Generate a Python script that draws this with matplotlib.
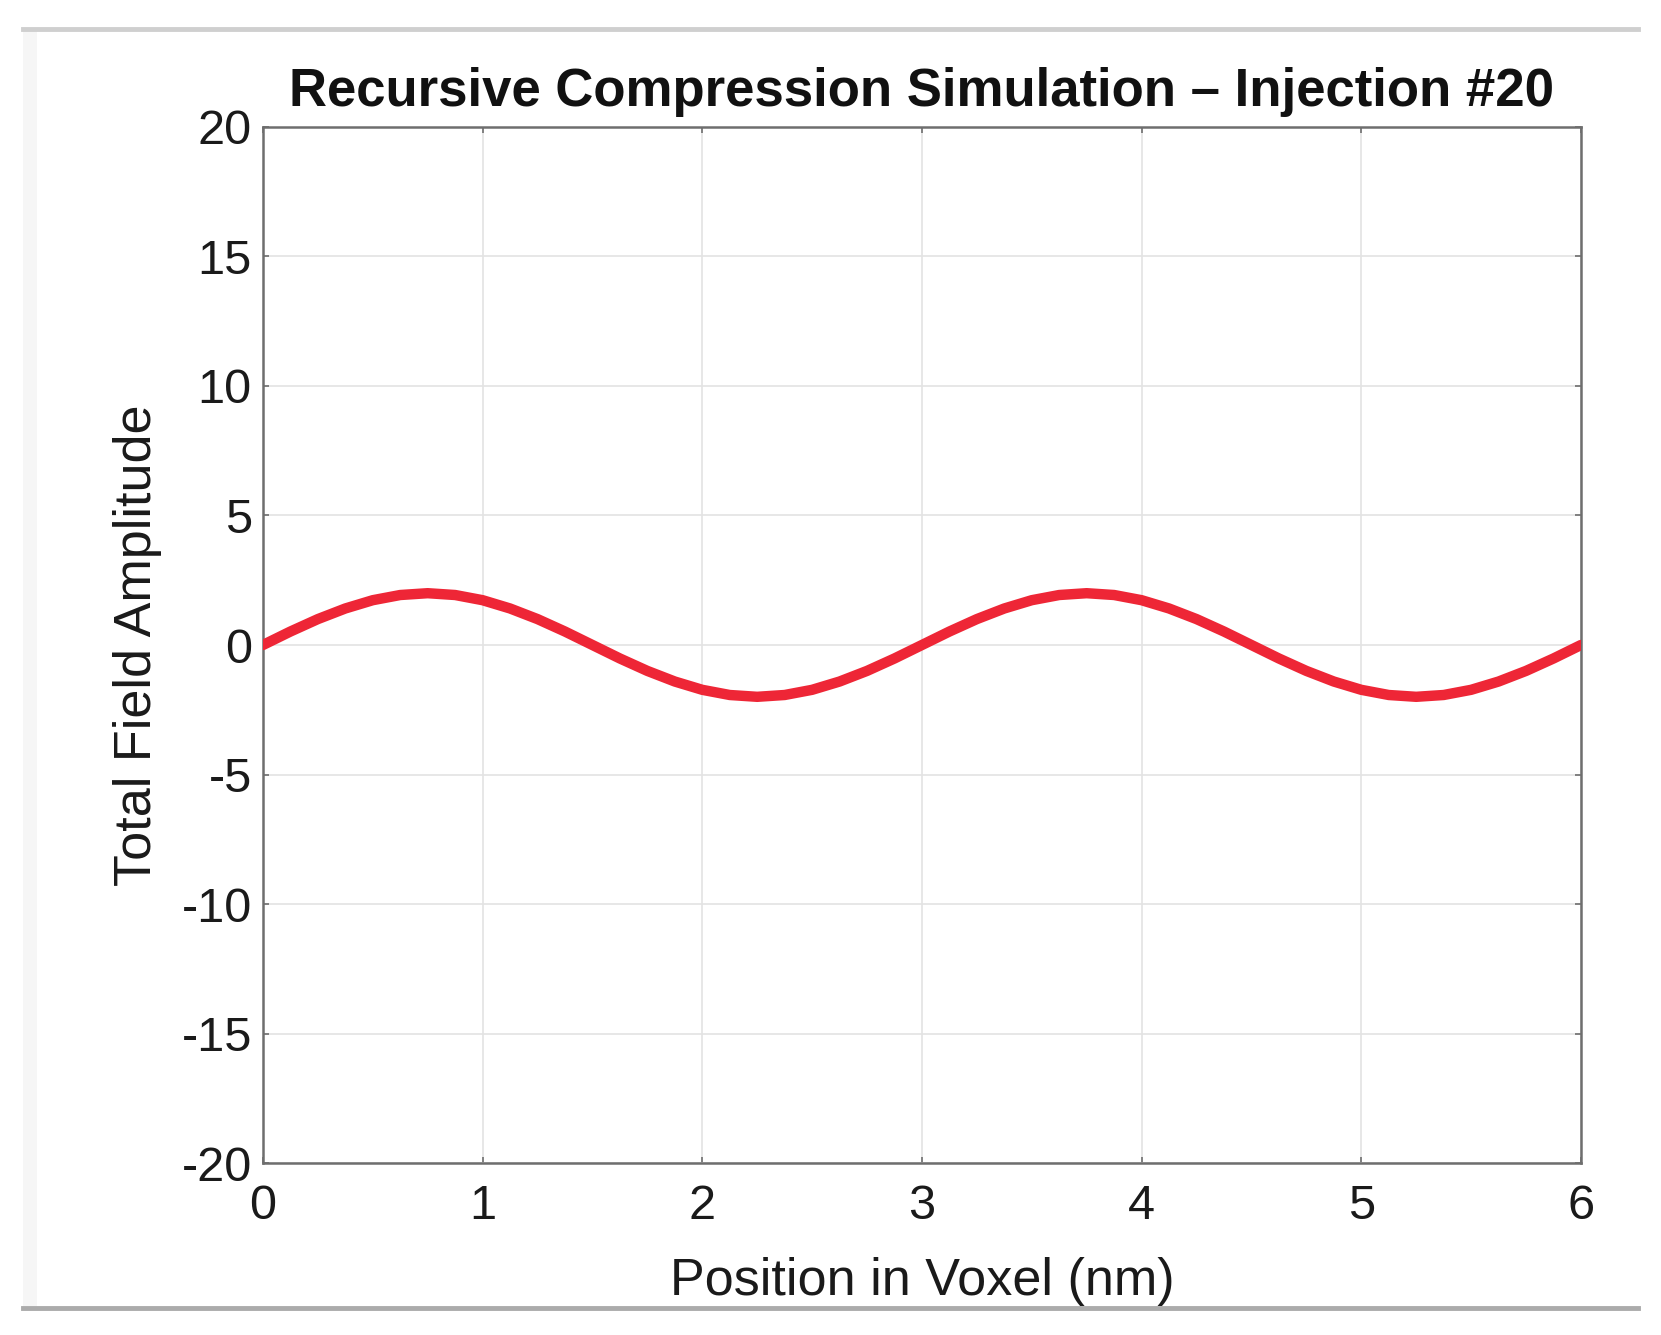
import matplotlib
matplotlib.use("Agg")
import matplotlib.pyplot as plt
from matplotlib.lines import Line2D
from matplotlib.patches import Rectangle

plt.rcParams["font.family"] = ["Liberation Sans", "DejaVu Sans"]
plt.rcParams["axes.unicode_minus"] = False

position = [
    0.0, 0.125, 0.25, 0.375, 0.5, 0.625, 0.75, 0.875, 1.0, 1.125, 1.25, 1.375,
    1.5, 1.625, 1.75, 1.875, 2.0, 2.125, 2.25, 2.375, 2.5, 2.625, 2.75, 2.875,
    3.0, 3.125, 3.25, 3.375, 3.5, 3.625, 3.75, 3.875, 4.0, 4.125, 4.25, 4.375,
    4.5, 4.625, 4.75, 4.875, 5.0, 5.125, 5.25, 5.375, 5.5, 5.625, 5.75, 5.875,
    6.0,
]
amplitude = [
    0.0, 0.52, 1.0, 1.41, 1.73, 1.93, 2.0, 1.93, 1.73, 1.41, 1.0, 0.52,
    0.0, -0.52, -1.0, -1.41, -1.73, -1.93, -2.0, -1.93, -1.73, -1.41, -1.0, -0.52,
    0.0, 0.52, 1.0, 1.41, 1.73, 1.93, 2.0, 1.93, 1.73, 1.41, 1.0, 0.52,
    0.0, -0.52, -1.0, -1.41, -1.73, -1.93, -2.0, -1.93, -1.73, -1.41, -1.0, -0.52,
    0.0,
]
x_ticks = [0, 1, 2, 3, 4, 5, 6]
y_ticks = [-20, -15, -10, -5, 0, 5, 10, 15, 20]

titre = "Recursive Compression Simulation \u2013 Injection #20"
label_x = "Position in Voxel (nm)"
label_y = "Total Field Amplitude"

# ---- figure ----
fig = plt.figure(figsize=(16.61, 13.35), dpi=100)
fig.patch.set_facecolor("white")

# cadre de la capture d'ecran
fig.add_artist(Rectangle((0.0138, 0.0202), 0.0085, 0.9581, transform=fig.transFigure,
                         facecolor="#f6f6f6", edgecolor="none", zorder=0))
fig.add_artist(Line2D([0.0138, 0.9862], [0.9783, 0.9783], transform=fig.transFigure,
                      color="#cfcfcf", linewidth=3.5))
fig.add_artist(Line2D([0.0138, 0.9862], [0.0202, 0.0202], transform=fig.transFigure,
                      color="#ababab", linewidth=3.5))

ax = fig.add_axes([0.1583, 0.1288, 0.7935, 0.7761])
ax.plot(position, amplitude, color="#ee2636", linewidth=7.5,
        solid_capstyle="round", solid_joinstyle="round", zorder=3)

ax.set_xlim(0, 6)
ax.set_ylim(-20, 20)
ax.set_xticks(x_ticks)
ax.set_yticks(y_ticks)
ax.grid(True, color="#e3e3e3", linewidth=1.2)
ax.set_axisbelow(True)

for sp in ax.spines.values():
    sp.set_color("#6e6e6e")
    sp.set_linewidth(1.8)

ax.tick_params(axis="both", direction="in", length=4, width=1.2, color="#6e6e6e",
               top=True, right=True, labelsize=35, labelcolor="#1a1a1a")
ax.tick_params(axis="x", pad=15)
ax.tick_params(axis="y", pad=8)

ax.set_title(titre, fontsize=38, fontweight="bold", pad=15, color="#111111")
ax.set_xlabel(label_x, fontsize=37.5, labelpad=20, color="#1a1a1a")
ax.set_ylabel(label_y, fontsize=37.5, labelpad=14, color="#1a1a1a")

fig.savefig("out.png", dpi=100, facecolor="white")
